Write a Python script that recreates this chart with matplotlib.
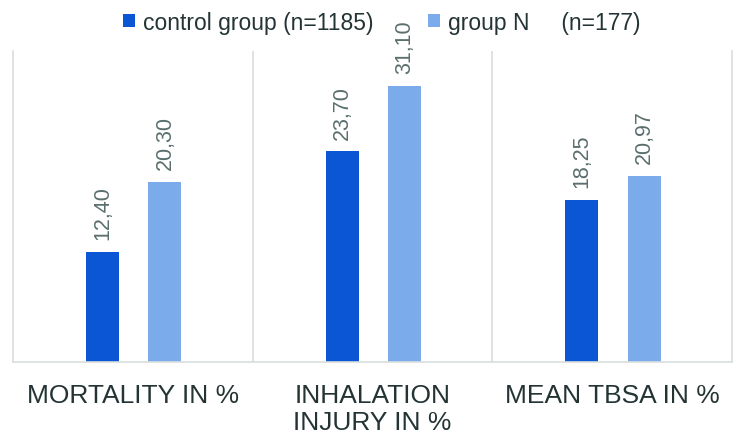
import matplotlib.pyplot as plt
import numpy as np

categories = ["MORTALITY IN %", "INHALATION\nINJURY IN %", "MEAN TBSA IN %"]
control = [12.40, 23.70, 18.25]
group_n = [20.30, 31.10, 20.97]
series_labels = ["control group (n=1185)", "group N     (n=177)"]

plt.rcParams['font.family'] = ['Liberation Sans', 'DejaVu Sans']

dark = "#0a56d4"
light = "#7babeb"
grid_col = "#d9dede"
val_col = "#5b6e6e"
lab_col = "#243434"

fig = plt.figure(figsize=(7.44, 4.35), dpi=100)
ax = fig.add_axes([13 / 744, 1 - 363 / 435, 719 / 744, 311 / 435])

x = np.arange(len(categories))
w = 0.1375
off = 0.13
b1 = ax.bar(x - off + 0.004, control, w, color=dark, label=series_labels[0])
b2 = ax.bar(x + off + 0.004, group_n, w, color=light, label=series_labels[1])

for bars, vals in ((b1, control), (b2, group_n)):
    for rect, v in zip(bars, vals):
        ax.annotate(f"{v:.2f}".replace(".", ","),
                    (rect.get_x() + rect.get_width() / 2, rect.get_height()),
                    xytext=(0, 9), textcoords="offset points",
                    rotation=90, ha="center", va="bottom",
                    fontsize=15.5, color=val_col)

ax.set_xlim(-0.5, 2.5)
ax.set_ylim(0, 35)
for sep in (0.5, 1.5):
    ax.axvline(sep, color=grid_col, lw=1.2)
for s in ("left", "right", "bottom"):
    ax.spines[s].set_color(grid_col)
    ax.spines[s].set_linewidth(1.2)
ax.spines["top"].set_visible(False)
ax.set_yticks([])
ax.set_xticks(x)
ax.set_xticklabels(categories, fontsize=19, color=lab_col, va="top",
                   linespacing=1.15)
ax.tick_params(axis="x", length=0, pad=15)

fig.legend(handles=[b1, b2], loc="upper center", bbox_to_anchor=(0.513, 1.02),
           ncol=2, frameon=False, fontsize=16.5, handlelength=0.5,
           handleheight=0.5, handletextpad=0.35, columnspacing=2.4,
           labelcolor="#243434")

fig.savefig("out.png", dpi=100)
